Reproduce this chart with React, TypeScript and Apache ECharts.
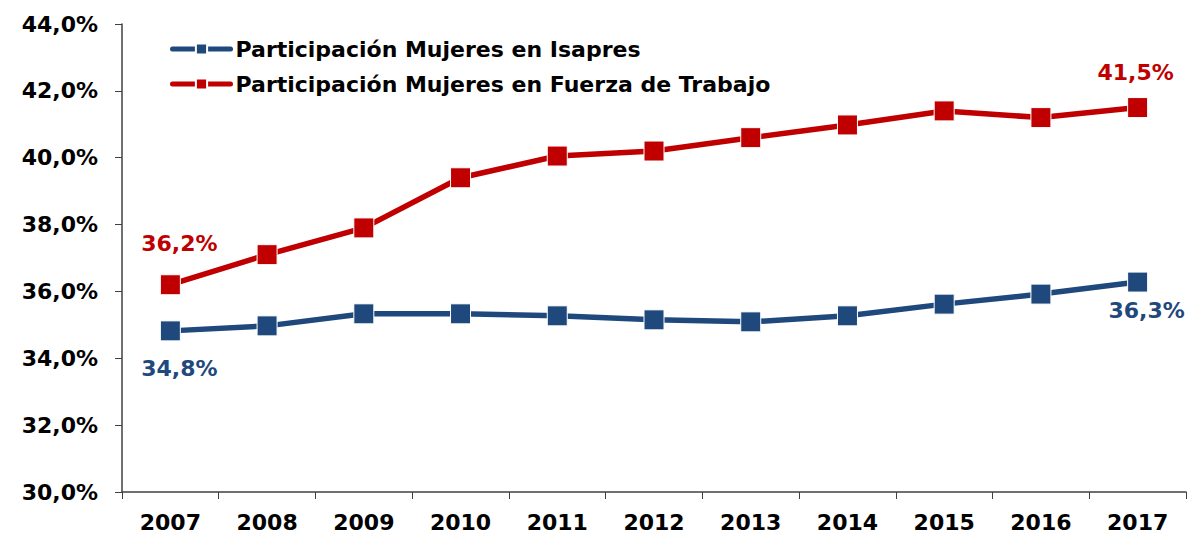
import React, { useEffect, useRef } from "react";
import * as echarts from "echarts";

const years = ["2007", "2008", "2009", "2010", "2011", "2012", "2013", "2014", "2015", "2016", "2017"];
const isapres = [34.82, 34.97, 35.33, 35.33, 35.27, 35.15, 35.09, 35.27, 35.62, 35.92, 36.28];
const fuerza = [36.2, 37.1, 37.9, 39.4, 40.05, 40.2, 40.6, 40.98, 41.4, 41.2, 41.5];
const seriesNames = ["Participación Mujeres en Isapres", "Participación Mujeres en Fuerza de Trabajo"];
const yMin = 30;
const yMax = 44;
const yStep = 2;

const BLUE = "#1F497D";
const RED = "#C00000";
const FONT = "DejaVu Sans";

const fmt = (v: number) => v.toFixed(1).replace(".", ",") + "%";

export default function App() {
  const ref = useRef<HTMLDivElement>(null);
  useEffect(() => {
    if (!ref.current) return;
    const chart = echarts.init(ref.current, undefined, { renderer: "svg" });
    const lbl = (color: string, position: string, offset: number[]) => ({
      show: true,
      position,
      offset,
      color,
      fontFamily: FONT,
      fontWeight: "bold",
      fontSize: 22,
      formatter: (p: any) => fmt(p.value),
    });
    const mk = (vals: number[], first: any, last: any) =>
      vals.map((v, i) => {
        if (i === 0) return { value: v, label: first };
        if (i === vals.length - 1) return { value: v, label: last };
        return v;
      });
    chart.setOption({
      animation: false,
      grid: { left: 122, right: 4, top: 24, bottom: 44, containLabel: false },
      legend: {
        left: 165,
        top: 33,
        orient: "vertical",
        itemWidth: 58,
        itemHeight: 14,
        itemGap: 13,
        itemTextGap: 2,
        lineStyle: { width: 5, cap: "round" },
        textStyle: { fontFamily: FONT, fontWeight: "bold", fontSize: 22, color: "#000" },
        data: seriesNames,
      },
      xAxis: {
        type: "category",
        data: years,
        boundaryGap: true,
        axisLine: { lineStyle: { color: "#404040", width: 1.5 } },
        axisTick: { show: true, length: 7, alignWithLabel: false, lineStyle: { color: "#404040" } },
        axisLabel: { fontFamily: FONT, fontWeight: "bold", fontSize: 22, color: "#000", margin: 19 },
      },
      yAxis: {
        type: "value",
        min: yMin,
        max: yMax,
        interval: yStep,
        splitLine: { show: false },
        axisLine: { show: true, lineStyle: { color: "#404040", width: 1.5 } },
        axisTick: { show: true, length: 7, lineStyle: { color: "#404040" } },
        axisLabel: {
          fontFamily: FONT,
          fontWeight: "bold",
          fontSize: 22,
          color: "#000",
          margin: 24,
          formatter: (v: number) => fmt(v),
        },
      },
      series: [
        {
          name: seriesNames[0],
          type: "line",
          data: mk(isapres, lbl(BLUE, "bottom", [9, 11]), lbl(BLUE, "bottom", [9, 2])),
          symbol: "rect",
          symbolSize: 20,
          lineStyle: { color: BLUE, width: 5.5 },
          itemStyle: { color: BLUE, borderColor: "#fff", borderWidth: 1 },
          label: { show: false },
        },
        {
          name: seriesNames[1],
          type: "line",
          data: mk(fuerza, lbl(RED, "top", [9, -15]), lbl(RED, "top", [-2, -9])),
          symbol: "rect",
          symbolSize: 20,
          lineStyle: { color: RED, width: 5.5 },
          itemStyle: { color: RED, borderColor: "#fff", borderWidth: 1 },
          label: { show: false },
        },
      ],
    });
    return () => chart.dispose();
  }, []);
  return <div ref={ref} style={{ width: 1190, height: 536, position: "absolute", left: 0, top: 0 }} />;
}
